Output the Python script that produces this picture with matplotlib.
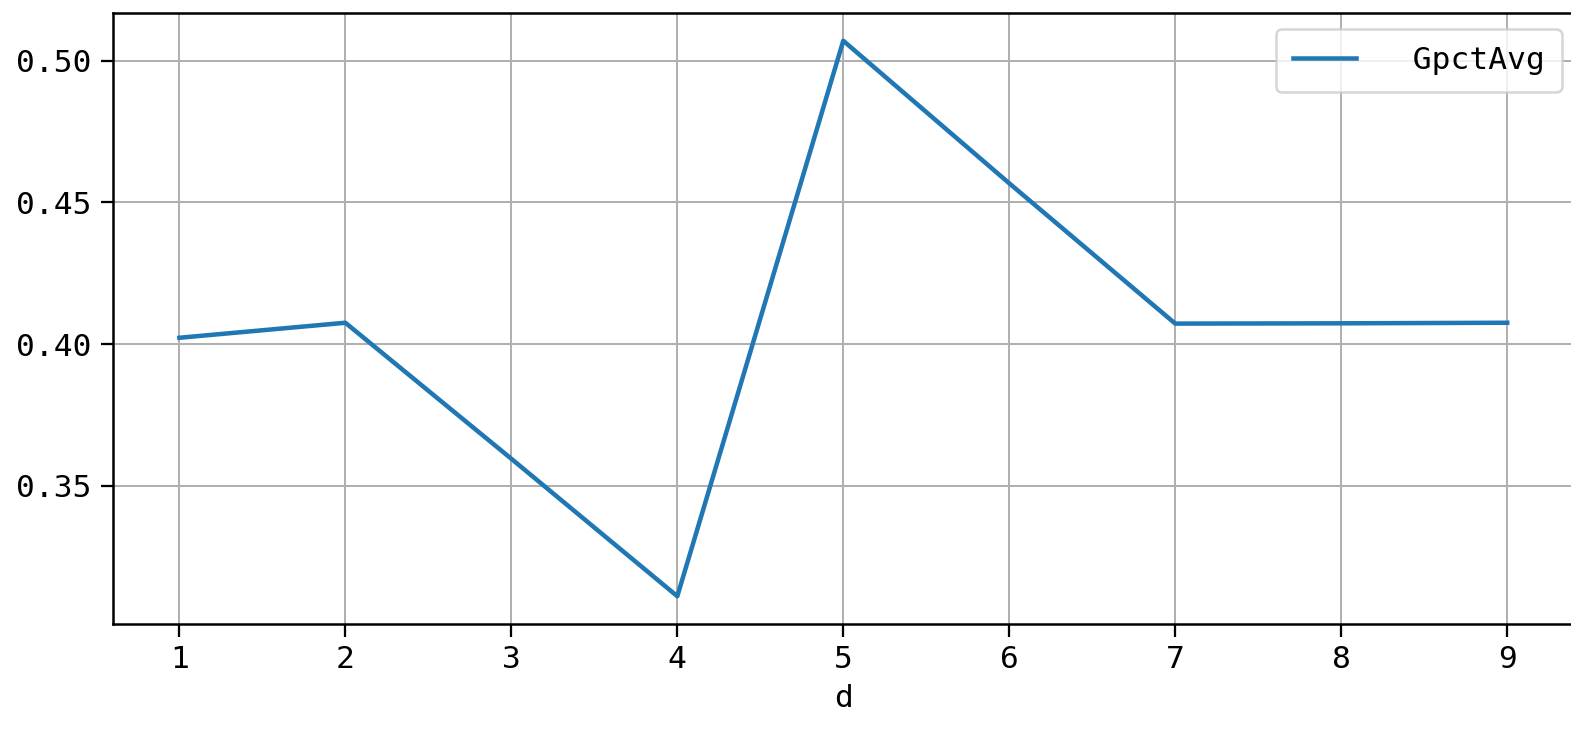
import matplotlib
matplotlib.use("Agg")
import matplotlib.pyplot as plt

plt.rcParams['font.family'] = ['DejaVu Sans Mono', 'Noto Sans CJK SC']
plt.rcParams['axes.unicode_minus'] = False

d = [1, 2, 3, 4, 5, 6, 7, 8, 9]
gpct_avg = [0.4022, 0.4075, 0.3595, 0.311, 0.507, 0.4567, 0.4072, 0.4073, 0.4075]
yticks = [0.35, 0.40, 0.45, 0.50]
ytick_labels = ['0.35', '0.40', '0.45', '0.50']

DPI = 180
fig = plt.figure(figsize=(1572 / DPI, 729 / DPI), dpi=DPI)
ax = fig.add_axes([113 / 1572, 1 - 624 / 729, 1 - 113 / 1572 + 0.001, (624 - 13) / 729])

ax.plot(d, gpct_avg, color='#1f77b4', linewidth=1.8, label='  GpctAvg')
ax.set_xticks(d)
ax.set_yticks(yticks)
ax.set_yticklabels(ytick_labels)
ax.set_xlim(0.6, 9.4)
ax.set_ylim(0.3012, 0.5168)
ax.grid(True, color='#b0b0b0', linewidth=0.8)
ax.tick_params(labelsize=12.5, length=5, width=0.9)
for s in ax.spines.values():
    s.set_linewidth(1.0)
ax.set_xlabel('d', fontsize=12.5, labelpad=4)
ax.legend(loc='upper right', fontsize=12.5, handlelength=2.0, borderaxespad=0,
          borderpad=0.55, handletextpad=0.6, bbox_to_anchor=(0.9918, 0.9738))

fig.savefig('out.png', dpi=DPI)
